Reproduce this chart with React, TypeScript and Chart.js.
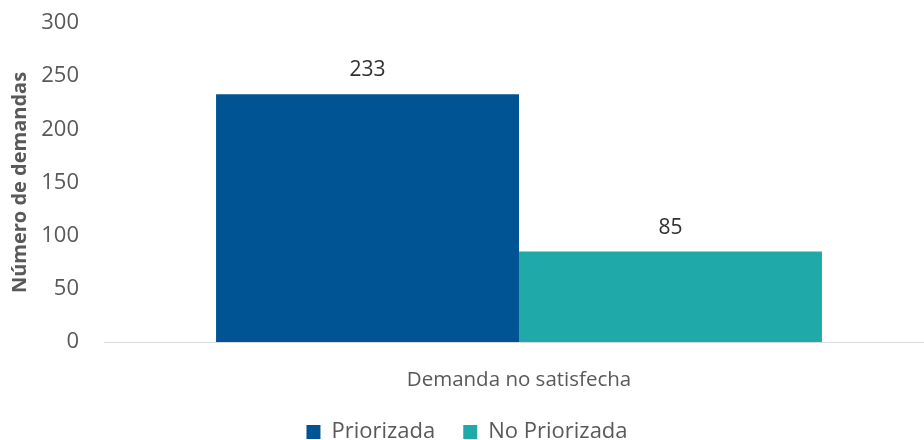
import React, { useEffect, useRef } from "react";
import { Chart, registerables } from "chart.js";

Chart.register(...registerables);

const categories = ["Demanda no satisfecha"];
const seriesNames = ["Priorizada", "No Priorizada"];
const priorizada = [233];
const noPriorizada = [85];
const seriesColors = ["#005493", "#20A9A9"];
const yTicks = [0, 50, 100, 150, 200, 250, 300];

const FONT = "'Open Sans', 'Noto Sans', sans-serif";

const valueLabels = {
  id: "valueLabels",
  afterDatasetsDraw(chart: any) {
    const ctx = chart.ctx;
    ctx.save();
    ctx.font = `21px ${FONT}`;
    ctx.fillStyle = "#303030";
    ctx.textAlign = "center";
    ctx.textBaseline = "middle";
    chart.data.datasets.forEach((ds: any, i: number) => {
      const meta = chart.getDatasetMeta(i);
      meta.data.forEach((el: any, j: number) => {
        ctx.fillText(String(ds.data[j]), el.x, el.y - 24);
      });
    });
    ctx.restore();
  },
};

export default function App() {
  const ref = useRef<HTMLCanvasElement | null>(null);
  useEffect(() => {
    document.body.style.margin = "0";
    if (!ref.current) return;
    const chart = new Chart(ref.current, {
      type: "bar",
      data: {
        labels: categories,
        datasets: [
          { label: seriesNames[0], data: priorizada, backgroundColor: seriesColors[0] },
          { label: seriesNames[1], data: noPriorizada, backgroundColor: seriesColors[1] },
        ],
      },
      options: {
        responsive: false,
        animation: false,
        layout: { padding: { top: 23, right: 0, left: 0, bottom: -13 } },
        datasets: { bar: { categoryPercentage: 0.73, barPercentage: 1 } },
        plugins: {
          legend: {
            position: "bottom",
            labels: {
              font: { family: FONT, size: 22 },
              color: "#595959",
              boxWidth: 14,
              boxHeight: 14,
              padding: 28,
            },
          },
          tooltip: { enabled: false },
        },
        scales: {
          x: {
            grid: { display: false },
            border: { display: true, color: "#d9d9d9", width: 1 },
            ticks: { font: { family: FONT, size: 20.5 }, color: "#595959", padding: 18 },
            afterFit: (s: any) => {
              s.height = 51;
            },
          },
          y: {
            min: 0,
            max: 300,
            afterBuildTicks: (s: any) => {
              s.ticks = yTicks.map((v) => ({ value: v }));
            },
            grid: { display: false },
            border: { display: false },
            ticks: { font: { family: FONT, size: 22 }, color: "#595959", padding: 17 },
            title: {
              display: true,
              text: "Número de demandas",
              font: { family: FONT, size: 20, weight: "bold" },
              color: "#595959",
              padding: { top: 8, bottom: 0 },
            },
            afterFit: (s: any) => {
              s.width = 104;
              s.paddingTop = 0;
              s.paddingBottom = 0;
            },
          },
        },
      },
      plugins: [valueLabels],
    });
    return () => chart.destroy();
  }, []);
  return (
    <div style={{ width: 924, height: 440, overflow: "hidden" }}>
      <canvas ref={ref} width={934} height={440} style={{ display: "block" }} />
    </div>
  );
}
